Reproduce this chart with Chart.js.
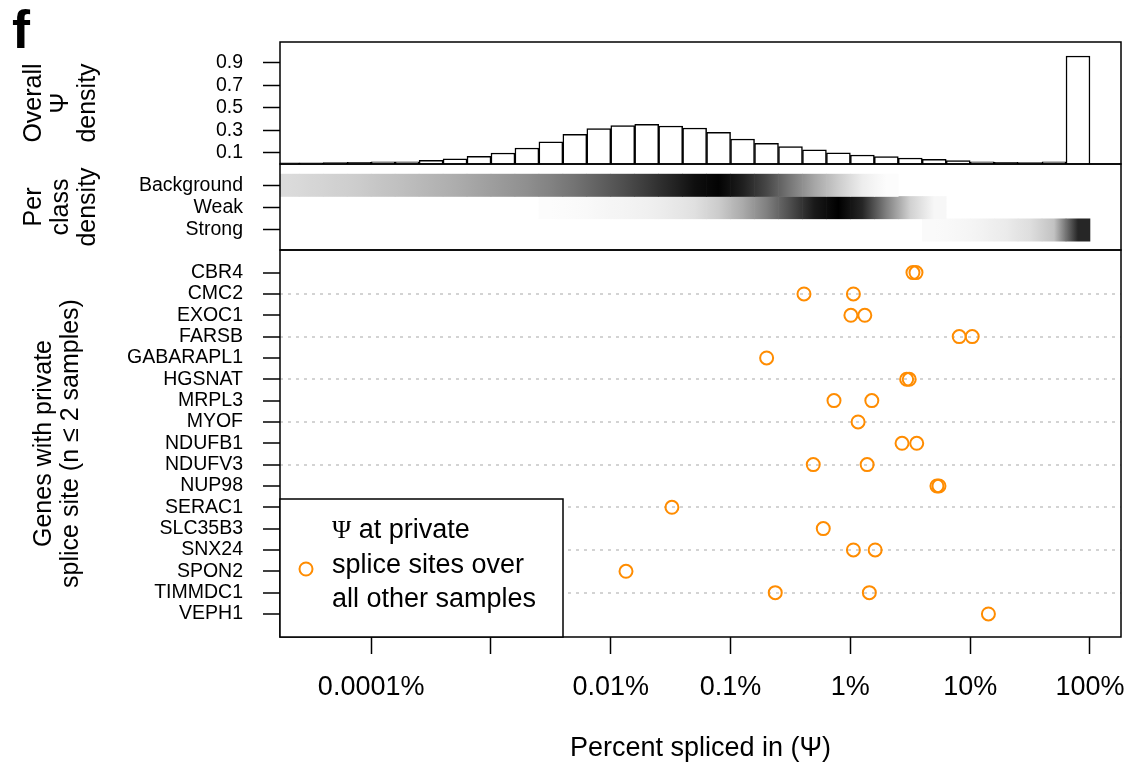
<!DOCTYPE html>
<html>
<head>
<meta charset="utf-8">
<title>Percent spliced in</title>
<script src="https://cdn.jsdelivr.net/npm/chart.js@4.4.1/dist/chart.umd.min.js"></script>
<style>
  html, body { margin: 0; padding: 0; background: #fff; }
  #wrap { width: 1133px; height: 768px; }
</style>
</head>
<body>
<div id="wrap"><canvas id="psiChart" width="1133" height="768"></canvas></div>
<script>
// ---- data (x in log10 of the fraction, bins 0.2 wide) ----
const binCenters = [-6.7, -6.5, -6.3, -6.1, -5.9, -5.7, -5.5, -5.3, -5.1, -4.9, -4.7, -4.5,
    -4.3, -4.1, -3.9, -3.7, -3.5, -3.3, -3.1, -2.9, -2.7, -2.5, -2.3, -2.1, -1.9, -1.7,
    -1.5, -1.3, -1.1, -0.9, -0.7, -0.5, -0.3, -0.1];

const overallDensity = [0.01, 0.01, 0.012, 0.015, 0.02, 0.02, 0.033, 0.047, 0.068, 0.098, 0.142, 0.196,
    0.264, 0.314, 0.341, 0.353, 0.338, 0.32, 0.281, 0.222, 0.184, 0.154, 0.127, 0.1, 0.08, 0.065,
    0.053, 0.041, 0.03, 0.02, 0.015, 0.012, 0.02, 0.96];

// per class density, 0 = white, 1 = black
const backgroundShade = [0.14, 0.16, 0.18, 0.2, 0.23, 0.26, 0.29, 0.32, 0.36, 0.4, 0.44, 0.49,
    0.55, 0.62, 0.69, 0.77, 0.85, 0.94, 0.99, 0.88, 0.72, 0.53, 0.35, 0.2, 0.07, 0.01,
    null, null, null, null, null, null, null, null];
const weakShade = [null, null, null, null, null, null, null, null, null, null, null, 0.01,
    0.02, 0.03, 0.045, 0.06, 0.085, 0.12, 0.2, 0.33, 0.5, 0.7, 0.9, 1.0, 0.85, 0.5,
    0.18, 0.03, null, null, null, null, null, null];
const strongShade = [null, null, null, null, null, null, null, null, null, null, null, null,
    null, null, null, null, null, null, null, null, null, null, null, null, null, null,
    null, 0.02, 0.03, 0.05, 0.08, 0.13, 0.24, 0.85];

const densityClasses = ['Background', 'Weak', 'Strong'];
const classLevels = [3, 2, 1];

const genes = ['CBR4', 'CMC2', 'EXOC1', 'FARSB', 'GABARAPL1', 'HGSNAT', 'MRPL3', 'MYOF', 'NDUFB1',
    'NDUFV3', 'NUP98', 'SERAC1', 'SLC35B3', 'SNX24', 'SPON2', 'TIMMDC1', 'VEPH1'];
// psi at private splice sites, in percent
const psiFirst = [3.33, 0.41, 1.01, 8.1, 0.2, 2.95, 0.73, 1.16, 2.7, 0.49, 5.28, 0.0324, 0.594, 1.06, 0.0134, 0.236, 14.2];
const psiSecond = [3.53, 1.06, 1.32, 10.4, null, 3.1, 1.51, null, 3.58, 1.38, 5.49, null, null, 1.61, null, 1.44, null];

const histTicks = [0.1, 0.3, 0.5, 0.7, 0.9];
const xTickValues = [-6, -5, -4, -3, -2, -1, 0];
const xTickLabels = ['0.0001%', '', '0.01%', '0.1%', '1%', '10%', '100%'];
const legendLines = [' at private', 'splice sites over', 'all other samples'];

// ---- chart ----
const FONT = "'Liberation Sans', Arial, Helvetica, sans-serif";
const DOT = '#FF8C00';
Chart.defaults.font.family = FONT;
Chart.defaults.color = '#000';

function grey(d) {
    const g = Math.round(255 * (1 - d));
    return `rgb(${g},${g},${g})`;
}

// each bin is a floating bar, shaded with a gradient towards its neighbours
function shadeDataset(shades, level) {
    const pts = [], idx = [];
    binCenters.forEach((c, i) => {
        if (shades[i] == null) return;
        pts.push({ x: c, y: [level - 0.5, level + 0.5] });
        idx.push(i);
    });
    return {
        type: 'bar', data: pts, yAxisID: 'yDens', borderWidth: 0,
        grouped: false, barPercentage: 1, categoryPercentage: 1,
        backgroundColor: ctx => {
            const i = idx[ctx.dataIndex];
            if (i === undefined) return grey(0);
            const s = shades[i];
            const xs = ctx.chart.scales.x;
            const x0 = xs ? xs.getPixelForValue(binCenters[i] - 0.1) : NaN;
            const x1 = xs ? xs.getPixelForValue(binCenters[i] + 0.1) : NaN;
            if (!isFinite(x0) || !isFinite(x1)) return grey(s);
            const prev = shades[i - 1] == null ? s : (shades[i - 1] + s) / 2;
            const next = shades[i + 1] == null ? s : (shades[i + 1] + s) / 2;
            const g = ctx.chart.ctx.createLinearGradient(x0, 0, x1, 0);
            g.addColorStop(0, grey(prev));
            g.addColorStop(0.5, grey(s));
            g.addColorStop(1, grey(next));
            return g;
        }
    };
}

const dots = [];
genes.forEach((g, i) => {
    const y = genes.length - 1 - i;
    [psiFirst[i], psiSecond[i]].forEach(v => {
        if (v != null) dots.push({ x: Math.log10(v / 100), y: y });
    });
});

function leftAxis(extra) {
    return Object.assign({
        type: 'linear', position: 'left', stack: 'panels',
        border: { display: false },
        afterFit: s => { s.width = 280; s.paddingTop = 0; s.paddingBottom = 0; }
    }, extra);
}
const tickGrid = { offset: false, drawOnChartArea: false, tickLength: 17, tickColor: '#000', tickWidth: 1.5, color: '#000' };
const tickFont = { size: 19.5 };
const titleFont = { size: 25, lineHeight: 1.08 };

const decorations = {
    id: 'decorations',
    afterDraw(chart) {
        const { ctx, chartArea: a } = chart;
        ctx.save();
        ctx.strokeStyle = '#000';
        ctx.lineWidth = 1.5;
        for (const id of ['yHist', 'yDens', 'yDots']) {
            const s = chart.scales[id];
            ctx.strokeRect(a.left, s.top, a.right - a.left, s.bottom - s.top);
        }
        // legend
        const lx = a.left, ly = 499, lw = 283, lh = a.bottom - ly;
        ctx.fillStyle = '#fff';
        ctx.fillRect(lx, ly, lw, lh);
        ctx.strokeRect(lx, ly, lw, lh);
        ctx.beginPath();
        ctx.arc(lx + 26, ly + 70, 6.5, 0, Math.PI * 2);
        ctx.strokeStyle = DOT;
        ctx.lineWidth = 2;
        ctx.stroke();
        ctx.fillStyle = '#000';
        ctx.textAlign = 'left';
        ctx.textBaseline = 'alphabetic';
        ctx.font = "26px 'Liberation Serif', serif";
        ctx.fillText('\u03A8', lx + 52, ly + 39.3);
        const psiW = ctx.measureText('\u03A8').width;
        ctx.font = '27px ' + FONT;
        ctx.fillText(legendLines[0], lx + 52 + psiW, ly + 39.3);
        ctx.fillText(legendLines[1], lx + 52, ly + 74.3);
        ctx.fillText(legendLines[2], lx + 52, ly + 108.3);
        // panel letter
        ctx.font = 'bold 54px ' + FONT;
        ctx.fillText('f', 12, 48);
        ctx.restore();
    }
};

new Chart(document.getElementById('psiChart'), {
    type: 'scatter',
    data: {
        datasets: [
            {
                type: 'bar', yAxisID: 'yHist',
                data: binCenters.map((c, i) => ({ x: c, y: overallDensity[i] })),
                backgroundColor: '#fff', borderColor: '#000', borderWidth: 1.5,
                grouped: false, barPercentage: 1, categoryPercentage: 1
            },
            shadeDataset(backgroundShade, classLevels[0]),
            shadeDataset(weakShade, classLevels[1]),
            shadeDataset(strongShade, classLevels[2]),
            {
                type: 'scatter', yAxisID: 'yDots', data: dots,
                pointRadius: 6.5, pointHoverRadius: 6.5, pointBorderWidth: 2,
                pointBorderColor: DOT, pointBackgroundColor: 'rgba(0,0,0,0)'
            }
        ]
    },
    options: {
        responsive: false,
        animation: false,
        events: [],
        layout: { padding: { top: 42, right: 12, bottom: 0, left: 0 } },
        plugins: { legend: { display: false }, tooltip: { enabled: false } },
        scales: {
            x: {
                type: 'linear', min: -6.761, max: 0.259, offset: false,
                border: { display: false },
                grid: tickGrid,
                afterBuildTicks: s => { s.ticks = xTickValues.map(v => ({ value: v })); },
                ticks: {
                    autoSkip: false, maxRotation: 0, padding: 17, font: { size: 27 },
                    callback: (v, i) => xTickLabels[i]
                },
                title: {
                    display: true, text: 'Percent spliced in (\u03A8)', font: { size: 27 },
                    padding: { top: 0, bottom: 3 }
                },
                afterFit: s => { s.height = 131; s.paddingLeft = 0; s.paddingRight = 0; }
            },
            yHist: leftAxis({
                weight: 3, stackWeight: 122, min: 0, max: 1.0844,
                grid: tickGrid,
                afterBuildTicks: s => { s.ticks = histTicks.map(v => ({ value: v })); },
                ticks: { autoSkip: false, padding: 20, font: tickFont, callback: v => v.toFixed(1) },
                title: {
                    display: true, text: ['Overall', '\u03A8', 'density'], font: titleFont,
                    padding: { top: 21, bottom: 0 }
                }
            }),
            yDens: leftAxis({
                weight: 2, stackWeight: 86, min: 0.105, max: 3.953,
                grid: tickGrid,
                afterBuildTicks: s => { s.ticks = classLevels.map(v => ({ value: v })); },
                ticks: {
                    autoSkip: false, padding: 20, font: tickFont,
                    callback: v => densityClasses[classLevels.indexOf(v)]
                },
                title: {
                    display: true, text: ['Per', 'class', 'density'], font: titleFont,
                    padding: { top: 21, bottom: 0 }
                }
            }),
            yDots: leftAxis({
                weight: 1, stackWeight: 387, min: -1.08, max: 17.06,
                border: { display: false, dash: [3, 5] },
                grid: {
                    offset: false, drawOnChartArea: true, tickLength: 17, tickColor: '#000', tickWidth: 1.5,
                    tickBorderDash: [], lineWidth: 2,
                    color: c => (c.tick && c.tick.value % 2 === 1) ? '#d3d3d3' : 'rgba(0,0,0,0)'
                },
                afterBuildTicks: s => { s.ticks = genes.map((g, i) => ({ value: genes.length - 1 - i })); },
                ticks: {
                    autoSkip: false, padding: 20, font: tickFont,
                    callback: v => genes[genes.length - 1 - v]
                },
                title: {
                    display: true, text: ['Genes with private', 'splice site (n \u2264 2 samples)'],
                    font: titleFont, padding: { top: 30.5, bottom: 0 }
                }
            })
        }
    },
    plugins: [decorations]
});
</script>
</body>
</html>
